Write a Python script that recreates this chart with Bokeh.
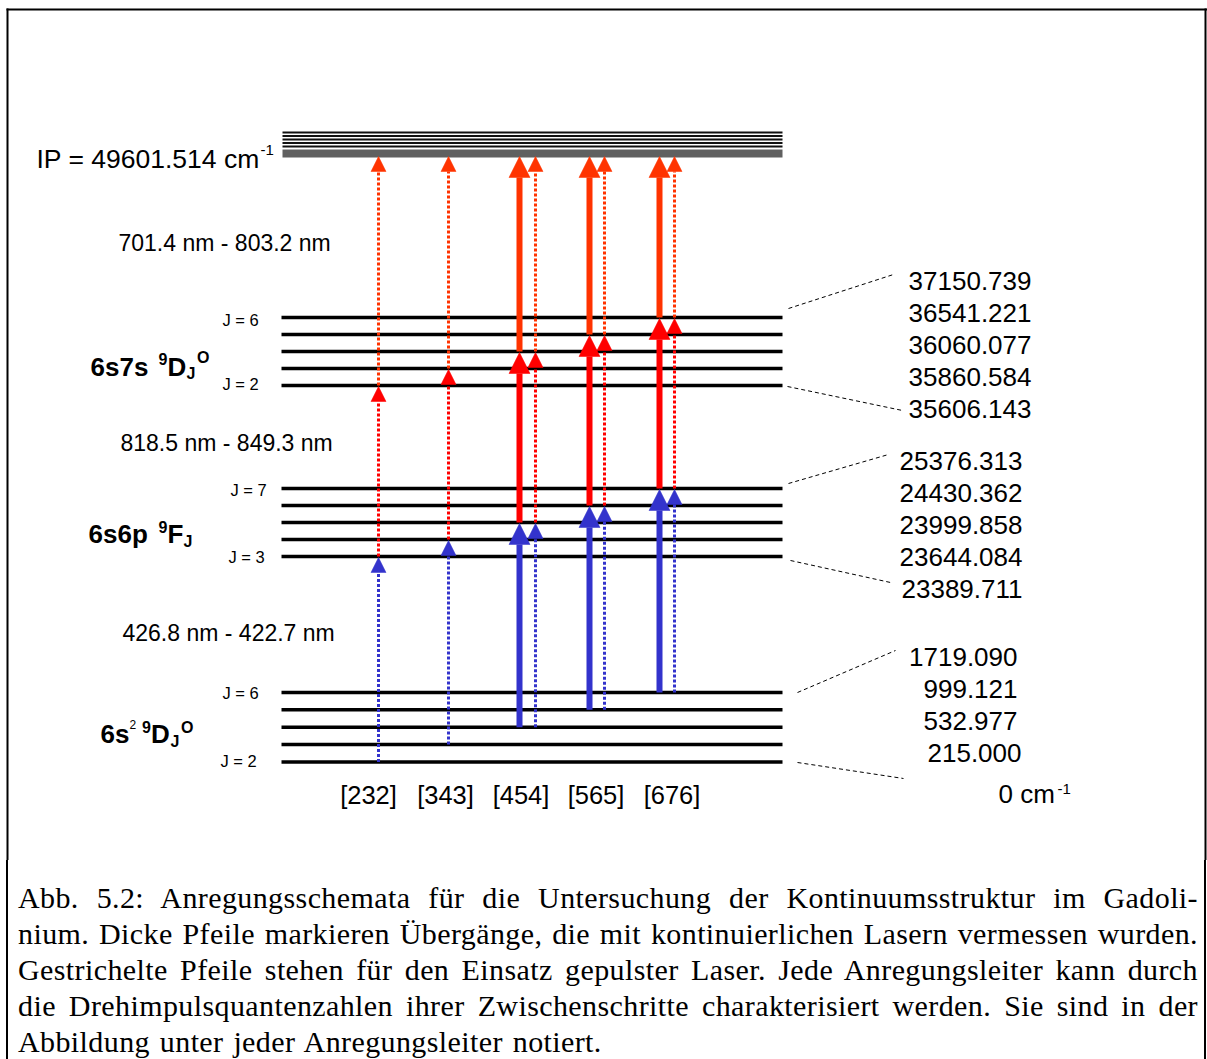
from bokeh.plotting import figure
from bokeh.models import Range1d, ColumnDataSource, Div
from bokeh.layouts import column
from bokeh.core.properties import value
from bokeh.embed import file_html
from bokeh.resources import INLINE

# ---------------- data ----------------
ladders = ["[232]", "[343]", "[454]", "[565]", "[676]"]
ground_J = [2, 3, 4, 5, 6]
ground_E = ["0", "215.000", "532.977", "999.121", "1719.090"]
mid_J = [3, 4, 5, 6, 7]
mid_E = ["23389.711", "23644.084", "23999.858", "24430.362", "25376.313"]
up_J = [2, 3, 4, 5, 6]
up_E = ["35606.143", "35860.584", "36060.077", "36541.221", "37150.739"]
ip_E = "49601.514"
# J of (ground, intermediate, upper) level for every ladder
ladder_J = [(2, 3, 2), (3, 4, 3), (4, 5, 4), (5, 6, 5), (6, 7, 6)]
cw_ladders = ["[454]", "[565]", "[676]"]        # thick arrows: cw lasers
pulsed_ladders = ["[232]", "[343]", "[454]", "[565]", "[676]"]  # dotted: pulsed
step_ranges = ["426.8 nm - 422.7 nm", "818.5 nm - 849.3 nm", "701.4 nm - 803.2 nm"]
caption_lines = [
    "Abb. 5.2: Anregungsschemata für die Untersuchung der Kontinuumsstruktur im Gadoli-",
    "nium. Dicke Pfeile markieren Übergänge, die mit kontinuierlichen Lasern vermessen wurden.",
    "Gestrichelte Pfeile stehen für den Einsatz gepulster Laser. Jede Anregungsleiter kann durch",
    "die Drehimpulsquantenzahlen ihrer Zwischenschritte charakterisiert werden. Sie sind in der",
    "Abbildung unter jeder Anregungsleiter notiert.",
]

# ---------------- layout (schematic, not to scale) ----------------
W, H = 1207, 860
X0, X1 = 281, 782
GROUND_BASE, GROUND_STEP = 761.5, 17.4
MID_BASE, UP_BASE, STEP = 556, 385, 17
IP_TIP = 156
STEP_COLORS = ["#3333CC", "#FF0000", "#FF3300"]
PULSED_X = {"[232]": 378, "[343]": 448, "[454]": 535, "[565]": 604, "[676]": 674}
CW_X = {"[454]": 519, "[565]": 589, "[676]": 659}
LADDER_LABEL_X = [368, 445, 520.5, 595.5, 671.5]
SANS = value("Liberation Sans")


def y_ground(j):
    return GROUND_BASE - GROUND_STEP * ground_J.index(j)


def y_mid(j):
    return MID_BASE - STEP * mid_J.index(j)


def y_up(j):
    return UP_BASE - STEP * up_J.index(j)


p = figure(width=W, height=H, x_range=Range1d(0, W), y_range=Range1d(H, 0),
           output_backend="svg", toolbar_location=None, min_border=0,
           x_axis_location=None, y_axis_location=None)
p.grid.visible = False
p.outline_line_color = None
p.background_fill_color = "white"
p.border_fill_color = "white"

# frame
p.segment(x0=[7, 6, 1205], y0=[8, 9, 8], x1=[7, 1207, 1205], y1=[H + 2, 9, H + 2],
          line_color="black", line_width=2)

# level lines
lvl_y = [y_ground(j) for j in ground_J] + [y_mid(j) for j in mid_J] + [y_up(j) for j in up_J]
p.segment(x0=[X0] * len(lvl_y), x1=[X1] * len(lvl_y), y0=lvl_y, y1=lvl_y,
          line_color="black", line_width=3.5)

# ionisation continuum band
band_y = [132, 135.5, 139, 142.5, 146]
p.segment(x0=[X0 + 1] * len(band_y), x1=[X1] * len(band_y), y0=band_y, y1=band_y,
          line_color="#111111", line_width=1.8)
p.quad(left=[X0 + 1], right=[X1], top=[149], bottom=[157], fill_color="#606060", line_color=None)

# arrows
seg = {"dot": dict(x0=[], y0=[], x1=[], y1=[], c=[]), "cw": dict(x0=[], y0=[], x1=[], y1=[], c=[])}
heads = dict(xs=[], ys=[], c=[])
for name, (jg, jm, ju) in zip(ladders, ladder_J):
    ys = [y_ground(jg), y_mid(jm), y_up(ju), IP_TIP]
    kinds = []
    if name in pulsed_ladders:
        kinds.append(("dot", PULSED_X[name], 15))
    if name in cw_ladders:
        kinds.append(("cw", CW_X[name], 21))
    for kind, x, hs in kinds:
        for s in range(3):
            tip = ys[s + 1] + (1 if s < 2 else 0)
            d = seg[kind]
            d["x0"].append(x); d["x1"].append(x)
            d["y0"].append(ys[s]); d["y1"].append(tip + hs)
            d["c"].append(STEP_COLORS[s])
            heads["xs"].append([x - hs / 2, x + hs / 2, x])
            heads["ys"].append([tip + hs, tip + hs, tip])
            heads["c"].append(STEP_COLORS[s])

p.segment(x0="x0", y0="y0", x1="x1", y1="y1", line_color="c", line_width=3,
          line_dash="3 2", source=ColumnDataSource(seg["dot"]))
p.segment(x0="x0", y0="y0", x1="x1", y1="y1", line_color="c", line_width=6,
          source=ColumnDataSource(seg["cw"]))
p.patches(xs="xs", ys="ys", fill_color="c", line_color="c", line_alpha=0.5,
          line_width=1, source=ColumnDataSource(heads))

# dashed connectors level-group -> energy list
con = dict(x0=[788, 787, 788, 790, 797, 797], y0=[308, 386, 483, 560, 692, 762],
           x1=[893, 902, 888, 890, 895, 903], y1=[274, 410, 454, 582, 650, 778])
p.segment(x0="x0", y0="y0", x1="x1", y1="y1", line_color="black", line_width=1,
          line_dash="4 3", source=ColumnDataSource(con))

# energy values
up_lbl_y = [408 - 32 * i for i in range(5)]
mid_lbl_y = [588 - 32 * i for i in range(5)]
p.text(x=[1031] * 5, y=up_lbl_y, text=up_E, text_font=SANS, text_font_size=value("26px"),
       text_align="right", text_baseline="middle", text_color="black")
p.text(x=[1022] * 5, y=mid_lbl_y, text=mid_E, text_font=SANS, text_font_size=value("26px"),
       text_align="right", text_baseline="middle", text_color="black")
p.text(x=[1021, 1017, 1017, 1017], y=[752, 720, 688, 656], text=ground_E[1:], text_font=SANS,
       text_font_size=value("26px"), text_align="right", text_baseline="middle", text_color="black")
p.text(x=[998], y=[793], text=[ground_E[0] + " cm"], text_font=SANS, text_font_size=value("26px"),
       text_align="left", text_baseline="alphabetic", text_color="black")
p.text(x=[1057], y=[788], text=["-1"], text_font=SANS, text_font_size=value("15px"),
       text_align="left", text_baseline="alphabetic", text_color="black")

# IP label
p.text(x=[36], y=[158], text=["IP = " + ip_E + " cm"], text_font=SANS,
       text_font_size=value("26.5px"), text_align="left", text_baseline="alphabetic", text_color="black")
p.text(x=[260], y=[149], text=["-1"], text_font=SANS, text_font_size=value("15px"),
       text_align="left", text_baseline="alphabetic", text_color="black")

# ladder labels
p.text(x=LADDER_LABEL_X, y=[794] * 5, text=ladders, text_font=SANS, text_font_size=value("25.5px"),
       text_align="center", text_baseline="middle", text_color="black")

# wavelength ranges of the steps
p.text(x=[122, 120, 118], y=[632, 442, 242], text=step_ranges, text_font=SANS,
       text_font_size=value("23px"), text_align="left", text_baseline="middle", text_color="black")

# J labels
j_txt = ["J = %d" % up_J[-1], "J = %d" % up_J[0], "J = %d" % mid_J[-1], "J =  %d" % mid_J[0],
         "J = %d" % ground_J[-1], "J =  %d" % ground_J[0]]
p.text(x=[222, 222, 230, 228, 222, 220], y=[319, 383, 489, 556, 692, 760], text=j_txt,
       text_font=SANS, text_font_size=value("16.5px"), text_align="left", text_baseline="middle",
       text_color="black")

# configuration labels (pieces for super/subscripts)
big = dict(x=[90, 167, 88, 167, 100, 150.5], y=[366.5, 366.5, 533.5, 533.5, 733.5, 733.5],
           t=["6s7s", "D", "6s6p", "F", "6s", "D"])
small = dict(x=[158, 186, 196.5, 158, 183, 141.5, 170, 180.5],
             y=[358, 373, 357, 526.5, 541, 726.5, 741, 726.5],
             t=["9", "J", "O", "9", "J", "9", "J", "O"])
p.text(x="x", y="y", text="t", source=ColumnDataSource(big), text_font=SANS,
       text_font_size=value("26px"), text_font_style="bold", text_align="left",
       text_baseline="alphabetic", text_color="black")
p.text(x="x", y="y", text="t", source=ColumnDataSource(small), text_font=SANS,
       text_font_size=value("16px"), text_font_style="bold", text_align="left",
       text_baseline="alphabetic", text_color="black")
p.text(x=[129], y=[724], text=["2"], text_font=SANS, text_font_size=value("12px"),
       text_align="left", text_baseline="alphabetic", text_color="black")

# caption
rows = "".join(
    '<div style="text-align:justify;text-align-last:justify;word-spacing:-3px;">%s</div>' % l
    for l in caption_lines[:-1]
) + '<div style="text-align:left;word-spacing:2px;">%s</div>' % caption_lines[-1]
cap_html = ('<div style="box-sizing:border-box;width:1200px;height:199px;margin:0 0 0 6px;'
            'border-left:2px solid #000;border-right:2px solid #000;padding:20px 6px 0 10px;'
            "font-family:'Liberation Serif',serif;font-size:30px;line-height:36px;"
            'letter-spacing:0.4px;color:#000;">' + rows + '</div>')
div = Div(text=cap_html, width=W, height=199, margin=0)

layout = column(p, div, spacing=0)
open("out.html", "w").write(file_html(layout, INLINE))
